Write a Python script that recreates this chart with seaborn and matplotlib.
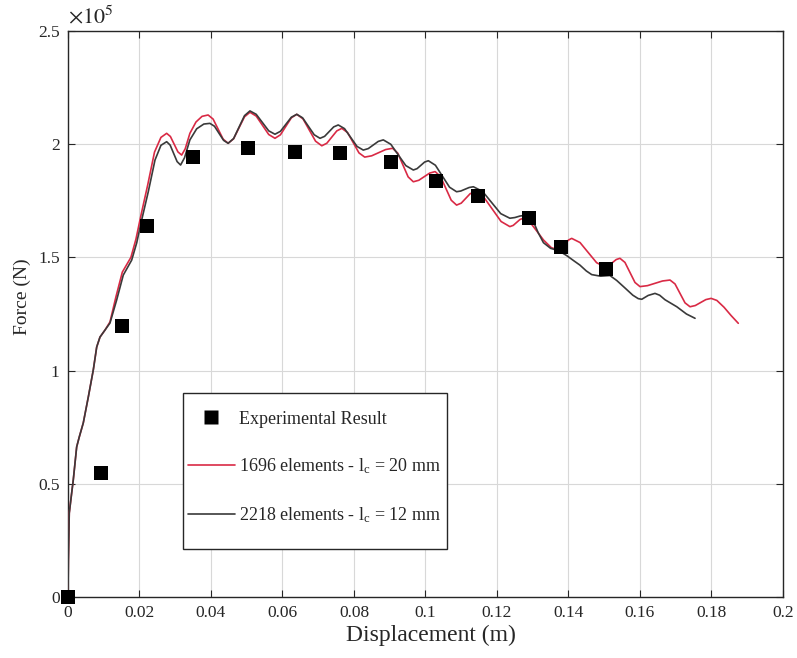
import numpy as np
import pandas as pd
import matplotlib
matplotlib.use("Agg")
import matplotlib.pyplot as plt
from matplotlib.lines import Line2D
from matplotlib.patches import Rectangle
import seaborn as sns

# Experimental force-displacement measurements
exp_disp = [0.0, 0.00923, 0.0151, 0.0221, 0.0350, 0.0503, 0.0635, 0.0761,
            0.0903, 0.1029, 0.1147, 0.1289, 0.1379, 0.1505]
exp_force = [0, 54800, 119700, 163900, 194300, 198300, 196600, 196100,
             192100, 183700, 177100, 167400, 154600, 144900]

# FE model, 1696 elements, lc = 20 mm
fine_disp = [0.0, 0.0001, 0.00036, 0.00103, 0.00148, 0.00243, 0.00316, 0.00428,
             0.00568, 0.00708, 0.00803, 0.00895, 0.01035, 0.01175, 0.01340,
             0.01520, 0.01760, 0.01900, 0.02040, 0.02230, 0.02420, 0.0260,
             0.0276, 0.02865, 0.0297, 0.03075, 0.0318,
             0.0328, 0.0341, 0.0358, 0.0375, 0.0392,
             0.0406, 0.0420, 0.0434, 0.0448,
             0.04633, 0.04785, 0.04938, 0.0509,
             0.05265, 0.0544, 0.05615, 0.0579,
             0.05943, 0.06095, 0.06248, 0.0640,
             0.06575, 0.0675, 0.06925, 0.0710,
             0.0724, 0.0738, 0.0752, 0.0766,
             0.0782, 0.0798, 0.0814, 0.0830,
             0.08495, 0.0869, 0.08885, 0.0908,
             0.09225, 0.0937, 0.09515, 0.0966,
             0.09813, 0.09965, 0.10118, 0.1027,
             0.1042, 0.1057, 0.1072, 0.1087,
             0.1100, 0.11125, 0.1125, 0.1138,
             0.11625, 0.1187, 0.12115, 0.1236,
             0.12455, 0.1255, 0.12645, 0.1274,
             0.1295, 0.1312, 0.1330, 0.1352, 0.1372,
             0.13813, 0.13905, 0.13998, 0.1409,
             0.14323, 0.14555, 0.14788, 0.1502,
             0.15125, 0.1523, 0.15335, 0.1544,
             0.1558, 0.1572, 0.1586, 0.1600,
             0.1621, 0.1642, 0.1663, 0.1684,
             0.1698, 0.1712, 0.1726, 0.1740,
             0.17548, 0.17695, 0.17843, 0.1799,
             0.1815, 0.1835, 0.1855, 0.1875]
fine_force = [0, 16300, 37100, 45900, 51700, 66300, 70700, 76900,
              88300, 100300, 110400, 114800, 117900, 121500, 132500,
              143500, 150000, 158000, 168500, 182000, 196500, 203000,
              204800, 203400, 200000, 196600, 195200,
              198000, 204800, 209800, 212300, 212900,
              211080, 206650, 202230, 200400,
              202400, 207250, 212100, 214100,
              212420, 208350, 204280, 202600,
              204150, 207900, 211650, 213200,
              211170, 206250, 201330, 199300,
              200420, 203150, 205880, 207000,
              205150, 200650, 196150, 194300,
              194870, 196250, 197630, 198200,
              196040, 190800, 185560, 183400,
              184060, 185650, 187240, 187900,
              185740, 180500, 175260, 173100,
              173960, 176050, 178140, 179000,
              176750, 171300, 165850, 163600,
              164140, 165450, 166760, 167300,
              165000, 161500, 157700, 154300, 153300,
              154050, 155850, 157650, 158400,
              156560, 152100, 147640, 145800,
              146350, 147700, 149050, 149600,
              147780, 143350, 138930, 137100,
              137520, 138550, 139580, 140000,
              138280, 134100, 129920, 128200,
              128740, 130050, 131360, 131900,
              131000, 128000, 124300, 120900]

# FE model, 2218 elements, lc = 12 mm
coarse_disp = [0.0, 0.0001, 0.00036, 0.00103, 0.00148, 0.00243, 0.00316, 0.00428,
               0.00568, 0.00708, 0.00803, 0.00895, 0.01035, 0.01175, 0.01362,
               0.01547, 0.01782, 0.01922, 0.02061, 0.02246, 0.02434, 0.0260,
               0.0276, 0.02858, 0.02955, 0.03053, 0.0315,
               0.0326, 0.0341, 0.0360, 0.0380, 0.0397,
               0.04098, 0.04225, 0.04353, 0.0448,
               0.04633, 0.04785, 0.04938, 0.0509,
               0.05265, 0.0544, 0.05615, 0.0579,
               0.05943, 0.06095, 0.06248, 0.0640,
               0.06563, 0.06725, 0.06888, 0.0705,
               0.07178, 0.07305, 0.07433, 0.0756,
               0.07735, 0.0791, 0.08085, 0.0826,
               0.0840, 0.0854, 0.0868, 0.0882,
               0.0903, 0.0924, 0.0945, 0.0966,
               0.09765, 0.0987, 0.09975, 0.1008,
               0.10278, 0.10475, 0.10673, 0.1087,
               0.10988, 0.11105, 0.11223, 0.1134,
               0.11595, 0.1185, 0.12105, 0.1236,
               0.1250, 0.1265, 0.1288,
               0.1300, 0.1315, 0.1330, 0.1350, 0.1372, 0.1395, 0.1415,
               0.1432, 0.1450, 0.1465, 0.1490, 0.1516, 0.1535, 0.1558,
               0.1580, 0.1595, 0.1605, 0.1623, 0.1642, 0.1655, 0.1670,
               0.1703, 0.1730, 0.1754]
coarse_force = [0, 16300, 37100, 45900, 51700, 66300, 70700, 76900,
                88300, 100300, 110400, 114800, 117900, 121000, 131200,
                142200, 148800, 156400, 166500, 179000, 193000, 199500,
                201100, 199600, 195950, 192300, 190800,
                194000, 201900, 206800, 208900, 209200,
                207920, 204800, 201680, 200400,
                202490, 207550, 212610, 214700,
                213200, 209550, 205900, 204400,
                205690, 208800, 211910, 213200,
                211650, 207900, 204150, 202600,
                203460, 205550, 207640, 208500,
                206880, 202950, 199020, 197400,
                198060, 199650, 201240, 201900,
                199960, 195250, 190540, 188600,
                189200, 190650, 192100, 192700,
                190700, 185850, 181000, 179000,
                179320, 180100, 180880, 181200,
                179170, 174250, 169330, 167300,
                167600, 168300, 168700,
                166500, 161000, 156500, 154000, 153000, 150800, 148500,
                146600, 144000, 142400, 141700, 142000, 139800, 136500,
                133300, 131800, 131500, 133200, 134100, 133300, 131300,
                128200, 125000, 123100]

x_ticks = [0, 0.02, 0.04, 0.06, 0.08, 0.1, 0.12, 0.14, 0.16, 0.18, 0.2]
x_tick_labels = ["0", "0.02", "0.04", "0.06", "0.08", "0.1", "0.12", "0.14",
                 "0.16", "0.18", "0.2"]
y_ticks = [0, 0.5e5, 1e5, 1.5e5, 2e5, 2.5e5]
y_tick_labels = ["0", "0.5", "1", "1.5", "2", "2.5"]

label_exp = "Experimental Result"
label_fine = r"1696 elements - $\mathregular{l_c}$ = 20 mm"
label_coarse = r"2218 elements - $\mathregular{l_c}$ = 12 mm"

RED = "#d92a45"
DARK = "#3a3a3a"
INK = "#262626"

sns.set_theme(style="whitegrid")
plt.rcParams["font.family"] = ["Liberation Serif", "DejaVu Serif"]
plt.rcParams["mathtext.fontset"] = "stix"

fig = plt.figure(figsize=(7.97, 6.58), dpi=100)
ax = fig.add_axes([0.0853, 0.0927, 0.8971, 0.8602])
ax.set_facecolor("white")

df_fine = pd.DataFrame({"d": fine_disp, "f": fine_force})
df_coarse = pd.DataFrame({"d": coarse_disp, "f": coarse_force})
df_exp = pd.DataFrame({"d": exp_disp, "f": exp_force})

sns.lineplot(data=df_fine, x="d", y="f", sort=False, estimator=None,
             color=RED, linewidth=1.2, ax=ax, zorder=3)
sns.lineplot(data=df_coarse, x="d", y="f", sort=False, estimator=None,
             color=DARK, linewidth=1.2, ax=ax, zorder=4)
sns.scatterplot(data=df_exp, x="d", y="f", marker="s", s=105, color="black",
                edgecolor="none", ax=ax, zorder=5, clip_on=False)

ax.set_xlim(0, 0.2)
ax.set_ylim(0, 2.5e5)
ax.set_xticks(x_ticks)
ax.set_xticklabels(x_tick_labels)
ax.set_yticks(y_ticks)
ax.set_yticklabels(y_tick_labels)
ax.grid(True, color="#d8d8d8", linewidth=0.8)
ax.set_axisbelow(True)

for sp in ax.spines.values():
    sp.set_visible(True)
    sp.set_color(INK)
    sp.set_linewidth(1.0)

ax.tick_params(axis="both", which="major", direction="in", length=5, width=0.8,
               color=INK, top=True, right=True, bottom=True, left=True,
               labelsize=12.5, labelcolor=INK, pad=6)

ax.set_xlabel("Displacement (m)", fontsize=17, color=INK)
ax.set_ylabel("Force (N)", fontsize=14, color=INK)
ax.xaxis.set_label_coords(0.508, -0.067)
ax.yaxis.set_label_coords(-0.064, 0.53)
ax.xaxis.label.set_va("center")
ax.yaxis.label.set_va("center")

ax.text(0.0, 1.004, r"$\times10^{5}$", transform=ax.transAxes, fontsize=16,
        color=INK, ha="left", va="bottom")

# legend box drawn as its own frame so the padding can differ by side
legend_box = Rectangle((0.1608, 0.0848), 0.3693, 0.2756, transform=ax.transAxes,
                       facecolor="white", edgecolor=INK, linewidth=1.0,
                       zorder=6)
ax.add_patch(legend_box)

handles = [
    Line2D([], [], linestyle="none", marker="s", markersize=10,
           color="black", markeredgecolor="none"),
    Line2D([], [], color=RED, linewidth=1.2),
    Line2D([], [], color=DARK, linewidth=1.2),
]
leg = ax.legend(handles, [label_exp, label_fine, label_coarse],
                loc="upper left", bbox_to_anchor=(0.1678, 0.329),
                borderaxespad=0, frameon=False,
                fontsize=13, labelspacing=1.6, handlelength=2.6,
                handletextpad=0.22, borderpad=0.0)
leg.set_zorder(7)
for t in leg.get_texts():
    t.set_color(INK)

fig.savefig("out.png", dpi=100, facecolor="white")
